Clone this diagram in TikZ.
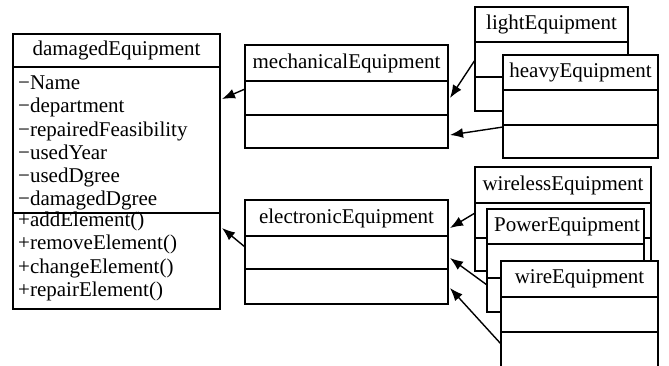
\documentclass[tikz,border=0pt]{standalone}
\usepackage{fontspec}
\setmainfont{Liberation Serif}
\usetikzlibrary{calc,arrows.meta}
\tikzset{
  cls/.style={draw, fill=white, line width=1.5pt, anchor=north west, inner sep=0pt, outer sep=0pt},
  sep/.style={line width=1.5pt},
  ttl/.style={inner sep=0pt, font=\fontsize{21}{24}\selectfont},
  mem/.style={inner sep=0pt, anchor=base west, font=\fontsize{21}{24}\selectfont},
  inh/.style={line width=1.4pt, -{Latex[length=13pt,width=10pt]}}
}
\begin{document}
\begin{tikzpicture}[x=1pt,y=-1pt]
\useasboundingbox[fill=white] (0,0) rectangle (669,365);

% damagedEquipment
\node[cls, minimum width=207pt, minimum height=275pt] (dam) at (13,34) {};
\draw[sep] ($(dam.north west)+(0,33)$) -- ($(dam.north east)+(0,33)$);
\draw[sep] ($(dam.north west)+(0,179)$) -- ($(dam.north east)+(0,179)$);
\node[ttl] (damt) at ($(dam.north)+(0,16.5)$) {damagedEquipment};
\node[mem] (a1) at (18,89) {−Name};
\node[mem] (a2) at (18,112.5) {−department};
\node[mem] (a3) at (18,136) {−repairedFeasibility};
\node[mem] (a4) at (18,159) {−usedYear};
\node[mem] (a5) at (18,182) {−usedDgree};
\node[mem] (a6) at (18,205) {−damagedDgree};
\node[mem] (m1) at (18,226) {+addElement()};
\node[mem] (m2) at (18,249.5) {+removeElement()};
\node[mem] (m3) at (18,273) {+changeElement()};
\node[mem] (m4) at (18,296) {+repairElement()};

% mechanicalEquipment
\node[cls, minimum width=203pt, minimum height=103pt] (mech) at (245,45) {};
\draw[sep] ($(mech.north west)+(0,36)$) -- ($(mech.north east)+(0,36)$);
\draw[sep] ($(mech.north west)+(0,70)$) -- ($(mech.north east)+(0,70)$);
\node[ttl] (mecht) at ($(mech.north)+(0,18)$) {mechanicalEquipment};

% electronicEquipment
\node[cls, minimum width=203pt, minimum height=104pt] (elec) at (245,200) {};
\draw[sep] ($(elec.north west)+(0,36)$) -- ($(elec.north east)+(0,36)$);
\draw[sep] ($(elec.north west)+(0,69)$) -- ($(elec.north east)+(0,69)$);
\node[ttl] (elect) at ($(elec.north)+(0,18)$) {electronicEquipment};

% lightEquipment
\node[cls, minimum width=153pt, minimum height=104pt] (light) at (475,7) {};
\draw[sep] ($(light.north west)+(0,35)$) -- ($(light.north east)+(0,35)$);
\draw[sep] ($(light.north west)+(0,70)$) -- ($(light.north east)+(0,70)$);
\node[ttl] (lightt) at ($(light.north)+(0,17.5)$) {lightEquipment};

% heavyEquipment
\node[cls, minimum width=155pt, minimum height=103pt] (heavy) at (503,55) {};
\draw[sep] ($(heavy.north west)+(0,35)$) -- ($(heavy.north east)+(0,35)$);
\draw[sep] ($(heavy.north west)+(0,70)$) -- ($(heavy.north east)+(0,70)$);
\node[ttl] (heavyt) at ($(heavy.north)+(0,17.5)$) {heavyEquipment};

% wirelessEquipment
\node[cls, minimum width=176pt, minimum height=104pt] (wless) at (475,167) {};
\draw[sep] ($(wless.north west)+(0,36)$) -- ($(wless.north east)+(0,36)$);
\draw[sep] ($(wless.north west)+(0,71)$) -- ($(wless.north east)+(0,71)$);
\node[ttl] (wlesst) at ($(wless.north)+(0,18)$) {wirelessEquipment};

% PowerEquipment
\node[cls, minimum width=157pt, minimum height=103pt] (power) at (487,209) {};
\draw[sep] ($(power.north west)+(0,35)$) -- ($(power.north east)+(0,35)$);
\draw[sep] ($(power.north west)+(0,69)$) -- ($(power.north east)+(0,69)$);
\node[ttl] (powert) at ($(power.north)+(1.5,17.5)$) {PowerEquipment};

% wireEquipment
\node[cls, minimum width=157pt, minimum height=108pt] (wire) at (501,261) {};
\draw[sep] ($(wire.north west)+(0,36)$) -- ($(wire.north east)+(0,36)$);
\draw[sep] ($(wire.north west)+(0,71)$) -- ($(wire.north east)+(0,71)$);
\node[ttl] (wiret) at ($(wire.north)+(0,18)$) {wireEquipment};

% inheritance arrows
\draw[inh] ($(light.north west)+(0,53)$) -- ($(mech.north east)+(2,53)$);
\draw[inh] ($(heavy.north west)+(0,72)$) -- ($(mech.north east)+(2,90)$);
\draw[inh] ($(mech.north west)+(0,44)$) -- ($(dam.north east)+(2,65)$);
\draw[inh] ($(elec.north west)+(0,47)$) -- ($(dam.north east)+(2,194)$);
\draw[inh] ($(wless.north west)+(0,46)$) -- ($(elec.north east)+(2,28)$);
\draw[inh] ($(power.north west)+(0,76)$) -- ($(elec.north east)+(2,58)$);
\draw[inh] ($(wire.north west)+(0,83)$) -- ($(elec.north east)+(2,88)$);
\end{tikzpicture}
\end{document}
